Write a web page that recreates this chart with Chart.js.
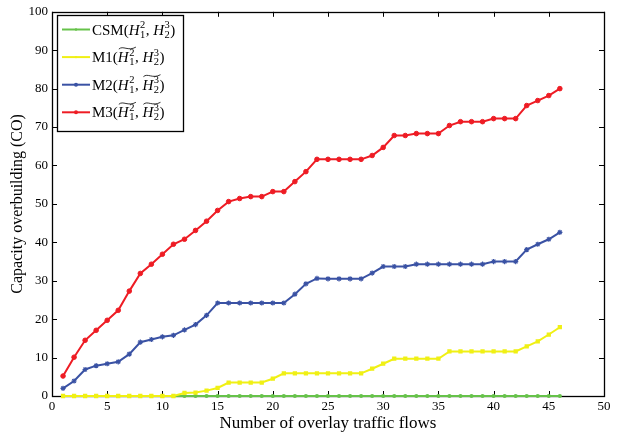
<!DOCTYPE html>
<html>
<head>
<meta charset="utf-8">
<script src="https://cdn.jsdelivr.net/npm/chart.js@4"></script>
<style>
  html, body { margin: 0; padding: 0; background: #fff; }
  #wrap { width: 623px; height: 436px; }
</style>
</head>
<body>
<div id="wrap"><canvas id="coChart" width="623" height="436"></canvas></div>
<script>
// Données
const flows = [1, 2, 3, 4, 5, 6, 7, 8, 9, 10, 11, 12, 13, 14, 15, 16, 17, 18, 19, 20, 21, 22, 23,
    24, 25, 26, 27, 28, 29, 30, 31, 32, 33, 34, 35, 36, 37, 38, 39, 40, 41, 42, 43, 44, 45, 46];

const csm = [0, 0, 0, 0, 0, 0, 0, 0, 0, 0, 0, 0, 0, 0, 0, 0, 0, 0, 0, 0, 0, 0, 0,
    0, 0, 0, 0, 0, 0, 0, 0, 0, 0, 0, 0, 0, 0, 0, 0, 0, 0, 0, 0, 0, 0, 0];
const m1 = [0, 0, 0, 0, 0, 0, 0, 0, 0, 0, 0, 0.8, 0.9, 1.4, 2.1, 3.5, 3.5, 3.5, 3.5, 4.5, 5.9, 5.9, 5.9,
    5.9, 5.9, 5.9, 5.9, 5.9, 7.1, 8.4, 9.7, 9.7, 9.7, 9.7, 9.7, 11.6, 11.6, 11.6, 11.6, 11.6, 11.6, 11.6, 12.9, 14.2, 16.0, 17.9];
const m2 = [2.0, 3.9, 6.9, 7.9, 8.4, 8.9, 10.9, 14.0, 14.7, 15.4, 15.8, 17.2, 18.6, 21.0, 24.2, 24.2, 24.2, 24.2, 24.2, 24.2, 24.2, 26.5, 29.2,
    30.6, 30.5, 30.5, 30.5, 30.5, 32.0, 33.7, 33.7, 33.7, 34.3, 34.3, 34.3, 34.3, 34.3, 34.3, 34.3, 35.0, 35.0, 35.0, 38.1, 39.5, 40.8, 42.6];
const m3 = [5.2, 10.1, 14.5, 17.1, 19.7, 22.3, 27.3, 31.9, 34.3, 36.9, 39.5, 40.8, 43.1, 45.5, 48.3, 50.6, 51.4, 51.9, 51.9, 53.2, 53.2, 55.8, 58.4,
    61.6, 61.6, 61.6, 61.6, 61.6, 62.6, 64.7, 67.8, 67.8, 68.3, 68.3, 68.3, 70.4, 71.4, 71.4, 71.4, 72.2, 72.2, 72.2, 75.6, 76.9, 78.2, 80.0];

const xTicks = [0, 5, 10, 15, 20, 25, 30, 35, 40, 45, 50];
const yTicks = [0, 10, 20, 30, 40, 50, 60, 70, 80, 90, 100];

const seriesNames = ['CSM', 'M1', 'M2', 'M3'];
const seriesTilde = [[false, false], [true, false], [false, true], [true, true]];

const colors = ['#66c24a', '#f0f014', '#3a52a4', '#ee1c24'];
const serif = '"Liberation Serif", "DejaVu Serif", serif';

function pts(values) {
    return flows.map((f, i) => ({ x: f, y: values[i] }));
}

// Cadre et graduations vers l'intérieur (style MATLAB)
const framePlugin = {
    id: 'frame',
    beforeDatasetsDraw(chart) {
        const ctx = chart.ctx;
        const a = chart.chartArea;
        const sx = chart.scales.x, sy = chart.scales.y;
        ctx.save();
        ctx.strokeStyle = '#000';
        ctx.lineWidth = 1;
        ctx.beginPath();
        xTicks.forEach(v => {
            const px = Math.round(sx.getPixelForValue(v)) + 0.5;
            ctx.moveTo(px, a.bottom); ctx.lineTo(px, a.bottom - 5);
            ctx.moveTo(px, a.top); ctx.lineTo(px, a.top + 5);
        });
        yTicks.forEach(v => {
            const py = Math.round(sy.getPixelForValue(v)) + 0.5;
            ctx.moveTo(a.left, py); ctx.lineTo(a.left + 5, py);
            ctx.moveTo(a.right, py); ctx.lineTo(a.right - 5, py);
        });
        ctx.stroke();
        ctx.lineWidth = 1.3;
        ctx.strokeRect(Math.round(a.left) + 0.5, Math.round(a.top) + 0.5,
            Math.round(a.right - a.left), Math.round(a.bottom - a.top));
        ctx.restore();
    }
};

// H avec indice / exposant, tilde optionnelle
function drawH(ctx, x, y, sub, sup, tilde) {
    ctx.font = 'italic 15px ' + serif;
    ctx.fillText('H', x, y);
    const wH = ctx.measureText('H').width;
    ctx.font = '10.5px ' + serif;
    const wS = Math.max(ctx.measureText(sub).width, ctx.measureText(sup).width);
    ctx.fillText(sup, x + wH + 0.5, y - 6.5);
    ctx.fillText(sub, x + wH + 0.5, y + 3);
    const w = wH + wS + 1;
    if (tilde) {
        const ty = y - 14.5;
        ctx.save();
        ctx.strokeStyle = '#000';
        ctx.lineWidth = 0.8;
        ctx.beginPath();
        ctx.moveTo(x + 1, ty + 1.5);
        ctx.bezierCurveTo(x + w * 0.3, ty - 2.5, x + w * 0.6, ty + 4, x + w + 1, ty - 0.5);
        ctx.stroke();
        ctx.restore();
    }
    return x + w;
}

const legendPlugin = {
    id: 'mathLegend',
    afterDraw(chart) {
        const ctx = chart.ctx;
        const bx = 57, by = 15, bw = 126, bh = 116;
        ctx.save();
        ctx.fillStyle = '#fff';
        ctx.fillRect(bx, by, bw, bh);
        ctx.strokeStyle = '#000';
        ctx.lineWidth = 1.3;
        ctx.strokeRect(bx + 0.5, by + 0.5, bw, bh);
        seriesNames.forEach((name, i) => {
            const cy = 29.5 + i * 27.6;
            ctx.strokeStyle = colors[i];
            ctx.lineWidth = 2;
            ctx.beginPath();
            ctx.moveTo(62, cy); ctx.lineTo(90, cy);
            ctx.stroke();
            ctx.fillStyle = colors[i];
            ctx.beginPath();
            ctx.arc(76, cy, i >= 2 ? 2 : 1.2, 0, Math.PI * 2);
            ctx.fill();

            ctx.fillStyle = '#000';
            ctx.textBaseline = 'alphabetic';
            ctx.textAlign = 'left';
            const y = cy + 5;
            let x = 92;
            ctx.font = '15px ' + serif;
            ctx.fillText(name + '(', x, y);
            x += ctx.measureText(name + '(').width;
            x = drawH(ctx, x, y, '1', '2', seriesTilde[i][0]);
            ctx.font = '15px ' + serif;
            ctx.fillText(', ', x, y);
            x += ctx.measureText(', ').width;
            x = drawH(ctx, x, y, '2', '3', seriesTilde[i][1]);
            ctx.font = '15px ' + serif;
            ctx.fillText(')', x, y);
        });
        ctx.restore();
    }
};

const ctx = document.getElementById('coChart');
const coChart = new Chart(ctx, {
    type: 'line',
    data: {
        datasets: [
            {
                label: 'CSM',
                data: pts(csm),
                borderColor: colors[0],
                backgroundColor: colors[0],
                borderWidth: 2.2,
                pointStyle: 'circle',
                pointRadius: 1,
                clip: false,
                order: 3
            },
            {
                label: 'M1',
                data: pts(m1),
                borderColor: colors[1],
                backgroundColor: colors[1],
                borderWidth: 2,
                pointStyle: 'rect',
                pointRadius: 1.6,
                clip: false,
                order: 2
            },
            {
                label: 'M2',
                data: pts(m2),
                borderColor: colors[2],
                backgroundColor: colors[2],
                borderWidth: 2,
                pointStyle: 'star',
                pointRadius: 2.6,
                pointBorderWidth: 1.2,
                clip: false,
                order: 1
            },
            {
                label: 'M3',
                data: pts(m3),
                borderColor: colors[3],
                backgroundColor: colors[3],
                borderWidth: 2,
                pointStyle: 'circle',
                pointRadius: 2.3,
                pointBorderWidth: 1,
                clip: false,
                order: 0
            }
        ]
    },
    options: {
        responsive: false,
        animation: false,
        layout: { padding: { top: 11, right: 19, left: 0, bottom: 0 } },
        plugins: {
            legend: { display: false },
            tooltip: { enabled: false }
        },
        elements: { line: { tension: 0 } },
        scales: {
            x: {
                type: 'linear',
                min: 0,
                max: 50,
                afterBuildTicks(scale) { scale.ticks = xTicks.map(v => ({ value: v })); },
                afterFit(scale) { scale.height = 40; },
                grid: { display: false, drawTicks: false },
                border: { display: false },
                ticks: {
                    color: '#000',
                    font: { family: serif, size: 13 },
                    padding: 3,
                    maxRotation: 0
                },
                title: {
                    display: true,
                    text: 'Number of overlay traffic flows',
                    color: '#000',
                    font: { family: serif, size: 17 },
                    padding: { top: 0, bottom: 2 }
                }
            },
            y: {
                type: 'linear',
                min: 0,
                max: 100,
                afterBuildTicks(scale) { scale.ticks = yTicks.map(v => ({ value: v })); },
                afterFit(scale) { scale.width = 52; },
                grid: { display: false, drawTicks: false },
                border: { display: false },
                ticks: {
                    color: '#000',
                    font: { family: serif, size: 13 },
                    padding: 4
                },
                title: {
                    display: true,
                    text: 'Capacity overbuilding (CO)',
                    color: '#000',
                    font: { family: serif, size: 16 },
                    padding: { top: 8, bottom: 0 }
                }
            }
        }
    },
    plugins: [framePlugin, legendPlugin]
});
</script>
</body>
</html>
